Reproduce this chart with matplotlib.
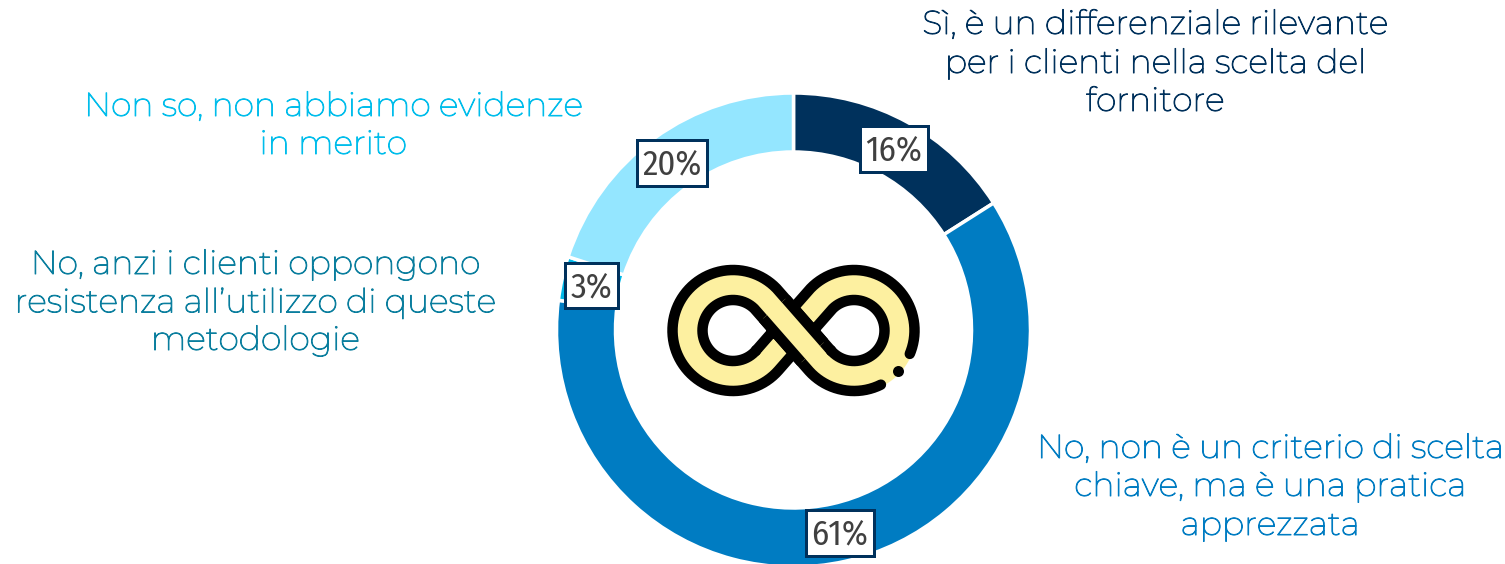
import numpy as np
import matplotlib
matplotlib.use("Agg")
import matplotlib.pyplot as plt
import matplotlib.patheffects as pe
from matplotlib.patches import Rectangle

# ---- data ----
categories = [
    ["Sì, è un differenziale rilevante", "per i clienti nella scelta del", "fornitore"],
    ["No, non è un criterio di scelta", "chiave, ma è una pratica", "apprezzata"],
    ["No, anzi i clienti oppongono", "resistenza all’utilizzo di queste", "metodologie"],
    ["Non so, non abbiamo evidenze", "in merito"],
]
values = [16, 61, 3, 20]
value_labels = ["16%", "61%", "3%", "20%"]

# ---- style / layout (pixel positions, y measured from the top) ----
W, H = 1505, 564
wedge_colors = ["#00315C", "#007CC2", "#00B8E8", "#94E6FF"]
text_colors = ["#00315C", "#007CC2", "#0A7E9E", "#00BDEB"]
text_centers = [(1155, [22, 61, 99]), (1270, [446, 484, 523]),
                (255, [262, 300, 338]), (333, [104, 142])]
boxes = [(860, 126, 68, 46), (806, 510, 68, 46), (565, 263, 53, 45), (637, 140, 70, 46)]
NAVY = "#00315C"
LABEL_FONT = ["Montserrat", "Inter", "DejaVu Sans"]
BOX_FONT = ["Fira Sans Condensed", "Encode Sans Condensed", "DejaVu Sans"]


def py(y):
    return H - y


fig = plt.figure(figsize=(W / 100, H / 100), dpi=100, facecolor="white")
ax = fig.add_axes([0, 0, 1, 1])
px = 0.72  # points per pixel

ax.pie(values, colors=wedge_colors, startangle=90, counterclock=False,
       radius=237, center=(793.5, py(330)),
       wedgeprops=dict(width=59, edgecolor="white", linewidth=3.5 * px))
ax.set_xlim(0, W)
ax.set_ylim(0, H)
ax.set_aspect("equal")
ax.axis("off")

# ---- category text ----
for lines, color, (cx, ys) in zip(categories, text_colors, text_centers):
    for line, y in zip(lines, ys):
        ax.text(cx, py(y), line, color=color, fontsize=23.85, family=LABEL_FONT,
                ha="center", va="center_baseline",
                path_effects=[pe.withStroke(linewidth=0.7, foreground=color)])

# ---- value boxes ----
for lab, (x, y, w, h) in zip(value_labels, boxes):
    ax.add_patch(Rectangle((x, py(y + h)), w, h, facecolor="white", edgecolor=NAVY,
                           linewidth=3 * px, zorder=5))
    ax.text(x + w / 2, py(y + h / 2 - 0.5), lab, color="#404040", fontsize=25,
            family=BOX_FONT, weight=400, ha="center", va="center_baseline", zorder=6)

# ---- infinity icon: a tube around two circles joined by crossing tangents ----
CX, CY = 793.5, py(330.5)
D, R, T = 60.5, 45.5, 15.0   # circle offset, radius, half tube width
YELLOW, INK = "#FDF0A0", "#000000"
phi = np.arcsin(R / D)
a = np.pi / 2 + phi  # angle of tangent point on the right circle
ang_r = np.linspace(a, -a, 300)
tp = np.array([D + R * np.cos(a), R * np.sin(a)])

line1 = np.linspace(0, 1, 30)[:, None] * tp
right = np.c_[D + R * np.cos(ang_r), R * np.sin(ang_r)]
line2 = tp * [1, -1] + np.linspace(0, 1, 60)[:, None] * (tp * [-2, 2])
ang_lft = np.linspace(np.pi - a, np.pi + a, 300)
left = np.c_[-D + R * np.cos(ang_lft), R * np.sin(ang_lft)]
line3 = tp * [-1, -1] * (1 - np.linspace(0, 1, 30)[:, None])
P = np.vstack([line1, right, line2, left, line3])
d = np.gradient(P, axis=0)
d /= np.maximum(np.hypot(d[:, 0], d[:, 1])[:, None], 1e-9)
N = np.c_[-d[:, 1], d[:, 0]]
L = P + T * N
Rr = P - T * N

n1 = len(line1)
ang_all = np.full(len(P), np.nan)
ang_all[n1:n1 + len(right)] = np.degrees(ang_r)
gap = (ang_all > -63) & (ang_all < -23)
L_gap = L.copy()
L_gap[gap] = np.nan

lw_band = 2 * T * px
lw_edge = 10.5 * px
ax.plot(CX + P[:, 0], CY + P[:, 1], color=YELLOW, lw=lw_band + 4 * px, zorder=3)
for E in (L_gap, Rr):
    ax.plot(CX + E[:, 0], CY + E[:, 1], color=INK, lw=lw_edge, zorder=3.1,
            solid_capstyle="round")
m = n1 + len(right)
idx = np.arange(m + 8, m + len(line2) - 8)
ax.plot(CX + P[idx, 0], CY + P[idx, 1], color=YELLOW, lw=lw_band, zorder=3.2,
        solid_capstyle="butt")
for E in (L, Rr):
    ax.plot(CX + E[idx, 0], CY + E[idx, 1], color=INK, lw=lw_edge, zorder=3.3,
            solid_capstyle="butt")
ax.plot([CX + D + 60 * np.cos(np.radians(-43))], [CY + 60 * np.sin(np.radians(-43))],
        "o", color=INK, ms=11 * px, mew=0, zorder=3.4)

fig.savefig("out.png", dpi=100, facecolor="white")
